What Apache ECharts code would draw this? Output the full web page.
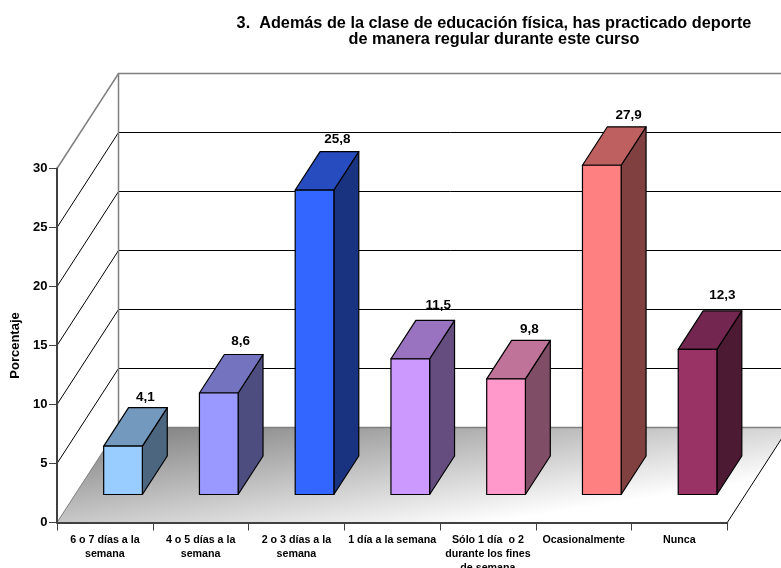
<!DOCTYPE html>
<html>
<head>
<meta charset="utf-8">
<style>html,body{margin:0;padding:0;background:#fff}#c{width:781px;height:568px}</style>
<script src="https://cdn.jsdelivr.net/npm/echarts@6/dist/echarts.min.js"></script>
</head>
<body>
<div id="c"></div>
<script>
const categories = ['6 o 7 días a la\nsemana','4 o 5 días a la\nsemana','2 o 3 días a la\nsemana','1 día a la semana','Sólo 1 día  o 2\ndurante los fines\nde semana','Ocasionalmente','Nunca'];
const values = [4.1, 8.6, 25.8, 11.5, 9.8, 27.9, 12.3];
const valueLabels = ['4,1','8,6','25,8','11,5','9,8','27,9','12,3'];
const yTicks = [5, 10, 15, 20, 25, 30];
const frontColors = ['#99CCFF','#9999FF','#3366FF','#CC99FF','#FF99CC','#FF8080','#993366'];
const topColors   = ['#7399BF','#7373BF','#264CBF','#9973BF','#BF7399','#BF6060','#732650'];
const sideColors  = ['#4D6680','#4D4D80','#1A3380','#664D80','#804D66','#804040','#4D1A33'];
const labelShiftX = [-2.5,-3,-2,3,-1.5,2,0];
const labelShiftY = [1,-2.5,-1.5,-4.5,0,0,-5];

// oblique projection of the chart's depth axis
const DEPTH_X = 61.5, DEPTH_Y = -95;
const BAR_FRONT = 0.295, BAR_BACK = 0.70, BAR_WIDTH = 0.404;
const proj = (p, d) => [p[0] + DEPTH_X * d, p[1] + DEPTH_Y * d];

function plotEnds(api) {
  const band = api.size([1, 0])[0];
  const left = api.coord([0, 0])[0] - band / 2;
  const right = api.coord([categories.length - 1, 0])[0] + band / 2;
  return { left, right, band };
}

function renderFloor(params, api) {
  const { left, right } = plotEnds(api);
  const y = api.coord([0, 0])[1];
  const a = [left, y], b = [right, y], c = proj(b, 1), d = proj(a, 1);
  return { type: 'group', children: [
    { type: 'polygon', shape: { points: [a, b, c, d] }, style: {
      fill: new echarts.graphic.LinearGradient(0.084, 0, 0.116, 1.574, [
        { offset: 0, color: '#808080' }, { offset: 1, color: '#FFFFFF' }]),
      stroke: null } },
    { type: 'line', shape: { x1: a[0], y1: a[1], x2: d[0], y2: d[1] }, style: { stroke: '#808080', lineWidth: 1 } },
    { type: 'line', shape: { x1: b[0], y1: b[1], x2: c[0], y2: c[1] }, style: { stroke: '#000', lineWidth: 1 } },
    { type: 'line', shape: { x1: d[0], y1: d[1], x2: c[0], y2: c[1] }, style: { stroke: '#808080', lineWidth: 1.5 } }
  ] };
}

function renderGrid(params, api) {
  const { left, right } = plotEnds(api);
  const v = api.value(0);
  const y = api.coord([0, v])[1];
  const top = v === yTicks[yTicks.length - 1];
  const a = [left, y], b = proj(a, 1), c = proj([right, y], 1);
  const stroke = top ? '#808080' : '#000';
  const lineWidth = top ? 1.5 : 1;
  const children = [
    { type: 'polyline', shape: { points: [a, b, c] }, style: { stroke, lineWidth, fill: null } }
  ];
  if (top) {
    const base = proj([left, api.coord([0, 0])[1]], 1);
    children.push({ type: 'line', shape: { x1: b[0], y1: b[1], x2: base[0], y2: base[1] }, style: { stroke: '#808080', lineWidth: 1.5 } });
  }
  return { type: 'group', children };
}

function renderBar(params, api) {
  const i = api.value(0), v = api.value(1);
  const band = api.size([1, 0])[0];
  const base = api.coord([i, 0]), head = api.coord([i, v]);
  const half = band * BAR_WIDTH / 2;
  const stroke = { stroke: '#000', lineWidth: 1.2, lineJoin: 'round' };
  const pt = (x, y, d) => proj([x, y], d);
  const xl = base[0] - half, xr = base[0] + half;
  const f = [pt(xl, base[1], BAR_FRONT), pt(xr, base[1], BAR_FRONT), pt(xr, head[1], BAR_FRONT), pt(xl, head[1], BAR_FRONT)];
  const s = [pt(xr, base[1], BAR_FRONT), pt(xr, base[1], BAR_BACK), pt(xr, head[1], BAR_BACK), pt(xr, head[1], BAR_FRONT)];
  const t = [pt(xl, head[1], BAR_FRONT), pt(xr, head[1], BAR_FRONT), pt(xr, head[1], BAR_BACK), pt(xl, head[1], BAR_BACK)];
  const lab = pt(base[0], head[1], BAR_BACK);
  return { type: 'group', children: [
    { type: 'polygon', shape: { points: s }, style: { fill: sideColors[i], ...stroke } },
    { type: 'polygon', shape: { points: t }, style: { fill: topColors[i], ...stroke } },
    { type: 'polygon', shape: { points: f }, style: { fill: frontColors[i], ...stroke } },
    { type: 'text', x: lab[0] + labelShiftX[i], y: lab[1] - 11 + labelShiftY[i], style: {
      text: valueLabels[i], fill: '#000', align: 'center', verticalAlign: 'middle',
      font: 'bold 13.5px "Liberation Sans", sans-serif' } }
  ] };
}

const chart = echarts.init(document.getElementById('c'), null, { renderer: 'canvas' });
const FONT = '"Liberation Sans", sans-serif';
chart.setOption({
  animation: false,
  backgroundColor: '#fff',
  title: {
    text: '3.  Además de la clase de educación física, has practicado deporte\nde manera regular durante este curso',
    left: 494, top: 16, textAlign: 'center', padding: 0,
    textStyle: { fontFamily: FONT, fontWeight: 'bold', fontSize: 16.25, lineHeight: 16, color: '#000' }
  },
  grid: { left: 57, top: 168.5, width: 670.3, height: 354, outerBoundsMode: 'none' },
  xAxis: {
    type: 'category', data: categories, z: 5,
    axisLine: { lineStyle: { color: '#404040', width: 2 } },
    axisTick: { show: true, alignWithLabel: false, length: 8, lineStyle: { color: '#404040', width: 1 } },
    axisLabel: { interval: 0, fontFamily: FONT, fontWeight: 'bold', fontSize: 10.7, lineHeight: 14, color: '#000', margin: 11 }
  },
  yAxis: {
    type: 'value', min: 0, max: 30, interval: 5, z: 5,
    name: 'Porcentaje', nameLocation: 'middle', nameGap: 35, nameRotate: 90,
    nameTextStyle: { fontFamily: FONT, fontWeight: 'bold', fontSize: 13, color: '#000' },
    splitLine: { show: false },
    axisLine: { show: true, lineStyle: { color: '#404040', width: 2 } },
    axisTick: { show: true, length: 8, lineStyle: { color: '#404040', width: 1 } },
    axisLabel: { fontFamily: FONT, fontWeight: 'bold', fontSize: 13, color: '#000', margin: 9.5 }
  },
  series: [
    { type: 'custom', name: 'grid', data: yTicks.map(v => [v]), encode: { y: 0 }, renderItem: renderGrid, silent: true, z: 1, clip: false },
    { type: 'custom', name: 'floor', data: [[0]], encode: { y: 0 }, renderItem: renderFloor, silent: true, z: 2, clip: false },
    { type: 'custom', name: 'Porcentaje', data: values.map((v, i) => [i, v]), encode: { x: 0, y: 1 }, renderItem: renderBar, z: 3, clip: false }
  ]
});
</script>
</body>
</html>
